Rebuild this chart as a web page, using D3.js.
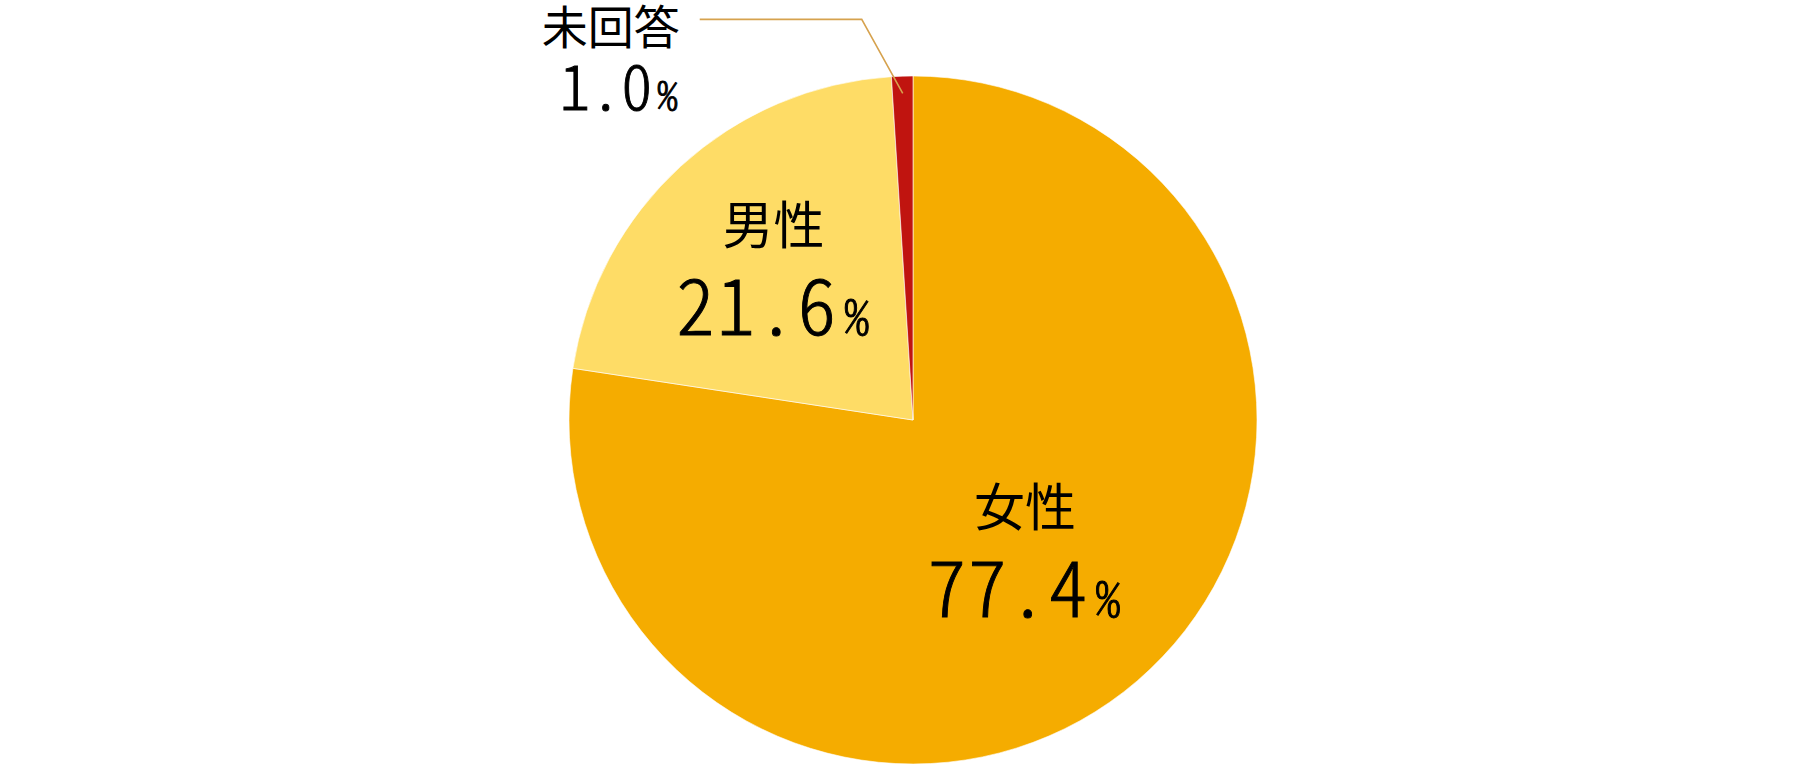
<!DOCTYPE html>
<html><head><meta charset="utf-8">
<script src="https://cdn.jsdelivr.net/npm/d3@7"></script>
<style>
html,body{margin:0;padding:0;background:#fff;}
svg text{font-family:"Noto Sans CJK JP","Noto Sans",sans-serif;font-weight:400;fill:#000;}
svg text.num{font-feature-settings:"hwid" 1;font-weight:300;stroke:#000;stroke-width:0.9px;}
</style></head>
<body>
<svg id="chart" width="1800" height="772"></svg>
<script>
const categories = ["女性", "男性", "未回答"];
const values = [77.4, 21.6, 1.0];
const valueLabels = ["77.4", "21.6", "1.0"];
const colors = ["#F5AC00", "#FEDC66", "#C0140F"];

const W = 1800, H = 772;
const cx = 913, cy = 420, R = 344;
const svg = d3.select("#chart");
const g = svg.append("g").attr("transform", `translate(${cx},${cy})`);

const pie = d3.pie().sort(null).value(d => d)(values);
const arc = d3.arc().innerRadius(0).outerRadius(R);

g.selectAll("path.slice").data(pie).enter().append("path")
  .attr("class", "slice")
  .attr("d", arc)
  .attr("fill", (d, i) => colors[i])
  .attr("stroke", "#fff")
  .attr("stroke-width", 0.6);

// inside labels for the two large slices
const labelRadiusFactor = [0.5, 0.6];
[0, 1].forEach(i => {
  const d = pie[i];
  const a = (d.startAngle + d.endAngle) / 2;
  const rr = R * labelRadiusFactor[i];
  const x = Math.sin(a) * rr, y = -Math.cos(a) * rr;
  g.append("text").attr("x", x).attr("y", y - 24)
    .attr("text-anchor", "middle").attr("font-size", 51)
    .text(categories[i]);
  const t = g.append("text").attr("class", "num").attr("x", x).attr("y", y + 67)
    .attr("text-anchor", "middle").attr("letter-spacing", 2);
  t.append("tspan").attr("font-size", 77).text(valueLabels[i]);
  t.append("tspan").attr("font-size", 50).attr("dx", 6).text("%");
});

// outside label with leader line for 未回答
{
  const i = 2, d = pie[i];
  const a = (d.startAngle + d.endAngle) / 2;
  const rr = R * 0.95;
  const px = Math.sin(a) * rr, py = -Math.cos(a) * rr;
  const elbowX = px - 41, elbowY = py - 74;
  const endX = elbowX - 162;
  g.append("polyline")
    .attr("points", [[px, py], [elbowX, elbowY], [endX, elbowY]].map(p => p.join(",")).join(" "))
    .attr("fill", "none").attr("stroke", "#D6A24E").attr("stroke-width", 1.6);
  g.append("text").attr("x", endX - 20).attr("y", elbowY + 25)
    .attr("text-anchor", "end").attr("font-size", 46)
    .text(categories[i]);
  const t = g.append("text").attr("class", "num").attr("x", endX - 22).attr("y", elbowY + 91)
    .attr("text-anchor", "end").attr("letter-spacing", 0);
  t.append("tspan").attr("font-size", 62).text(valueLabels[i]);
  t.append("tspan").attr("font-size", 41).attr("dx", 5).text("%");
}
</script>
</body></html>
